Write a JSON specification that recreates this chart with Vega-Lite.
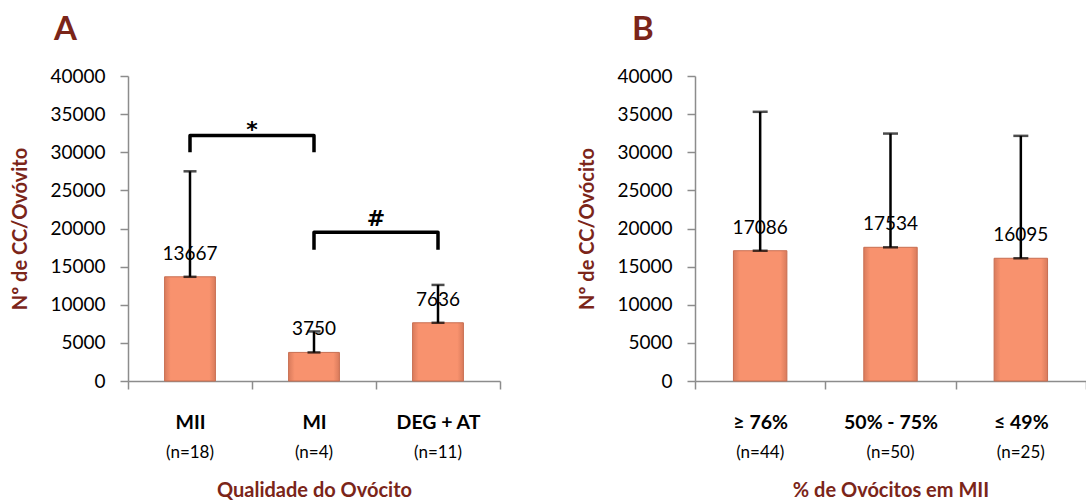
{
  "$schema": "https://vega.github.io/schema/vega-lite/v6.json",
  "background": "white",
  "padding": {"left": 10, "top": 14, "right": 0, "bottom": 0},
  "spacing": 76,
  "datasets": {
    "a": [
      {"cat": "MII", "n": "(n=18)", "mean": 13667, "upper": 27500},
      {"cat": "MI", "n": "(n=4)", "mean": 3750, "upper": 6500},
      {"cat": "DEG + AT", "n": "(n=11)", "mean": 7636, "upper": 12600}
    ],
    "b": [
      {"cat": "≥ 76%", "n": "(n=44)", "mean": 17086, "upper": 35300},
      {"cat": "50% - 75%", "n": "(n=50)", "mean": 17534, "upper": 32450},
      {"cat": "≤ 49%", "n": "(n=25)", "mean": 16095, "upper": 32150}
    ],
    "brackets": [
      {"b": "s", "cat": "MII", "y": 30000, "o": 1},
      {"b": "s", "cat": "MII", "y": 32200, "o": 2},
      {"b": "s", "cat": "MI", "y": 32200, "o": 3},
      {"b": "s", "cat": "MI", "y": 30000, "o": 4},
      {"b": "h", "cat": "MI", "y": 17200, "o": 1},
      {"b": "h", "cat": "MI", "y": 19500, "o": 2},
      {"b": "h", "cat": "DEG + AT", "y": 19500, "o": 3},
      {"b": "h", "cat": "DEG + AT", "y": 17200, "o": 4}
    ],
    "sig": [
      {"sym": "*", "cat": "MI", "y": 32900},
      {"sym": "#", "cat": "DEG + AT", "y": 21300}
    ]
  },
  "hconcat": [
    {
      "width": 372,
      "height": 305,
      "title": {"text": "A", "anchor": "start", "frame": "group", "dx": -74, "fontSize": 33, "fontWeight": "bold", "color": "#7b2519", "font": "Lato", "offset": 20},
      "layer": [
        {
          "encoding": {
            "x": {"field": "cat", "type": "nominal", "sort": null,
              "scale": {"type": "band", "paddingInner": 0, "paddingOuter": 0, "domain": ["MII", "MI", "DEG + AT"]},
              "axis": {"title": null, "labelAngle": 0, "labelFont": "Lato", "labelFontSize": 19.5, "labelFontWeight": "bold", "labelColor": "black", "labelPadding": 24, "tickBand": "extent", "tickSize": 8, "tickColor": "#8c8c8c", "domainColor": "#8c8c8c", "domainWidth": 1.5, "tickWidth": 1.5}}
          },
          "layer": [
            {
              "data": {"name": "a"},
              "mark": {"type": "bar", "width": {"band": 0.41}, "stroke": "#c86e51", "strokeWidth": 1,
                "fill": {"gradient": "linear", "x1": 0, "x2": 1, "y1": 0, "y2": 0, "stops": [
                  {"offset": 0, "color": "#d97b5c"}, {"offset": 0.12, "color": "#f8926e"}, {"offset": 0.88, "color": "#f8926e"}, {"offset": 1, "color": "#d97b5c"}]}},
              "encoding": {
                "y": {"field": "mean", "type": "quantitative", "title": "Nº de CC/Ovóvito", "scale": {"domain": [0, 40000]}}
              }
            },
            {
              "data": {"name": "a"},
              "mark": {"type": "rule", "color": "black", "strokeWidth": 2.5},
              "encoding": {
                "y": {"field": "mean", "type": "quantitative", "title": "Nº de CC/Ovóvito"},
                "y2": {"field": "upper", "title": "Nº de CC/Ovóvito"}
              }
            },
            {
              "data": {"name": "a"},
              "mark": {"type": "tick", "color": "black", "size": 13, "thickness": 2.5},
              "encoding": {"y": {"field": "upper", "type": "quantitative", "title": "Nº de CC/Ovóvito"}}
            },
            {
              "data": {"name": "a"},
              "mark": {"type": "tick", "color": "black", "size": 13, "thickness": 2.5},
              "encoding": {"y": {"field": "mean", "type": "quantitative", "title": "Nº de CC/Ovóvito"}}
            },
            {
              "data": {"name": "brackets"},
              "mark": {"type": "line", "color": "black", "strokeWidth": 3.5, "strokeJoin": "round"},
              "encoding": {
                "y": {"field": "y", "type": "quantitative", "title": "Nº de CC/Ovóvito"},
                "detail": {"field": "b"},
                "order": {"field": "o"}
              }
            },
            {
              "data": {"name": "sig"},
              "mark": {"type": "text", "font": "DejaVu Sans", "fontSize": 22, "fontWeight": "bold", "baseline": "middle", "color": "black"},
              "encoding": {
                "x": {"field": "cat", "type": "nominal", "bandPosition": 0},
                "y": {"field": "y", "type": "quantitative", "title": "Nº de CC/Ovóvito"},
                "text": {"field": "sym"}
              }
            }
          ]
        },
        {
          "data": {"name": "a"},
          "mark": {"type": "text", "font": "Lato", "fontSize": 19, "baseline": "middle", "dy": -23, "color": "black"},
          "encoding": {
            "x": {"field": "n", "type": "nominal", "sort": null,
              "scale": {"type": "band", "paddingInner": 0, "paddingOuter": 0, "domain": ["(n=18)", "(n=4)", "(n=11)"]},
              "axis": {"orient": "bottom", "title": "Qualidade do Ovócito", "titleFont": "Lato", "titleFontSize": 20, "titleFontWeight": "bold", "titleColor": "#7b2519", "titlePadding": 20,
                "labelAngle": 0, "labelFont": "Lato", "labelFontSize": 17, "labelColor": "black", "labelPadding": 63, "ticks": false, "tickSize": 0, "domain": false}},
            "y": {"field": "mean", "type": "quantitative", "title": "Nº de CC/Ovóvito"},
            "text": {"field": "mean", "type": "quantitative", "format": "d"}
          }
        }
      ],
      "resolve": {"scale": {"x": "independent"}, "axis": {"x": "independent"}}
    },
    {
      "width": 391,
      "height": 305,
      "title": {"text": "B", "anchor": "start", "frame": "group", "dx": -63, "fontSize": 33, "fontWeight": "bold", "color": "#7b2519", "font": "Lato", "offset": 20},
      "layer": [
        {
          "encoding": {
            "x": {"field": "cat", "type": "nominal", "sort": null,
              "scale": {"type": "band", "paddingInner": 0, "paddingOuter": 0, "domain": ["≥ 76%", "50% - 75%", "≤ 49%"]},
              "axis": {"title": null, "labelAngle": 0, "labelFont": "Lato", "labelFontSize": 19.5, "labelFontWeight": "bold", "labelColor": "black", "labelPadding": 24, "tickBand": "extent", "tickSize": 8, "tickColor": "#8c8c8c", "domainColor": "#8c8c8c", "domainWidth": 1.5, "tickWidth": 1.5}}
          },
          "layer": [
            {
              "data": {"name": "b"},
              "mark": {"type": "bar", "width": {"band": 0.41}, "stroke": "#c86e51", "strokeWidth": 1,
                "fill": {"gradient": "linear", "x1": 0, "x2": 1, "y1": 0, "y2": 0, "stops": [
                  {"offset": 0, "color": "#d97b5c"}, {"offset": 0.12, "color": "#f8926e"}, {"offset": 0.88, "color": "#f8926e"}, {"offset": 1, "color": "#d97b5c"}]}},
              "encoding": {
                "y": {"field": "mean", "type": "quantitative", "title": "Nº de CC/Ovócito", "scale": {"domain": [0, 40000]}}
              }
            },
            {
              "data": {"name": "b"},
              "mark": {"type": "rule", "color": "black", "strokeWidth": 2.5},
              "encoding": {
                "y": {"field": "mean", "type": "quantitative", "title": "Nº de CC/Ovócito"},
                "y2": {"field": "upper", "title": "Nº de CC/Ovócito"}
              }
            },
            {
              "data": {"name": "b"},
              "mark": {"type": "tick", "color": "black", "size": 15, "thickness": 2.5},
              "encoding": {"y": {"field": "upper", "type": "quantitative", "title": "Nº de CC/Ovócito"}}
            },
            {
              "data": {"name": "b"},
              "mark": {"type": "tick", "color": "black", "size": 15, "thickness": 2.5},
              "encoding": {"y": {"field": "mean", "type": "quantitative", "title": "Nº de CC/Ovócito"}}
            }
          ]
        },
        {
          "data": {"name": "b"},
          "mark": {"type": "text", "font": "Lato", "fontSize": 19, "baseline": "middle", "dy": -23, "color": "black"},
          "encoding": {
            "x": {"field": "n", "type": "nominal", "sort": null,
              "scale": {"type": "band", "paddingInner": 0, "paddingOuter": 0, "domain": ["(n=44)", "(n=50)", "(n=25)"]},
              "axis": {"orient": "bottom", "title": "% de Ovócitos em MII", "titleFont": "Lato", "titleFontSize": 20, "titleFontWeight": "bold", "titleColor": "#7b2519", "titlePadding": 20,
                "labelAngle": 0, "labelFont": "Lato", "labelFontSize": 17, "labelColor": "black", "labelPadding": 63, "ticks": false, "tickSize": 0, "domain": false}},
            "y": {"field": "mean", "type": "quantitative", "title": "Nº de CC/Ovócito"},
            "text": {"field": "mean", "type": "quantitative", "format": "d"}
          }
        }
      ],
      "resolve": {"scale": {"x": "independent"}, "axis": {"x": "independent"}}
    }
  ],
  "config": {
    "view": {"stroke": null},
    "font": "Lato",
    "axisY": {"titleFont": "Lato", "titleFontSize": 20, "titleFontWeight": "bold", "titleColor": "#7b2519", "titlePadding": 19,
      "tickCount": 8, "format": "d", "labelOverlap": false,
      "labelFont": "Lato", "labelFontSize": 19, "labelColor": "black", "labelPadding": 15, "tickSize": 8, "tickColor": "#8c8c8c", "domainColor": "#8c8c8c", "domainWidth": 1.5, "tickWidth": 1.5, "grid": false}
  }
}
